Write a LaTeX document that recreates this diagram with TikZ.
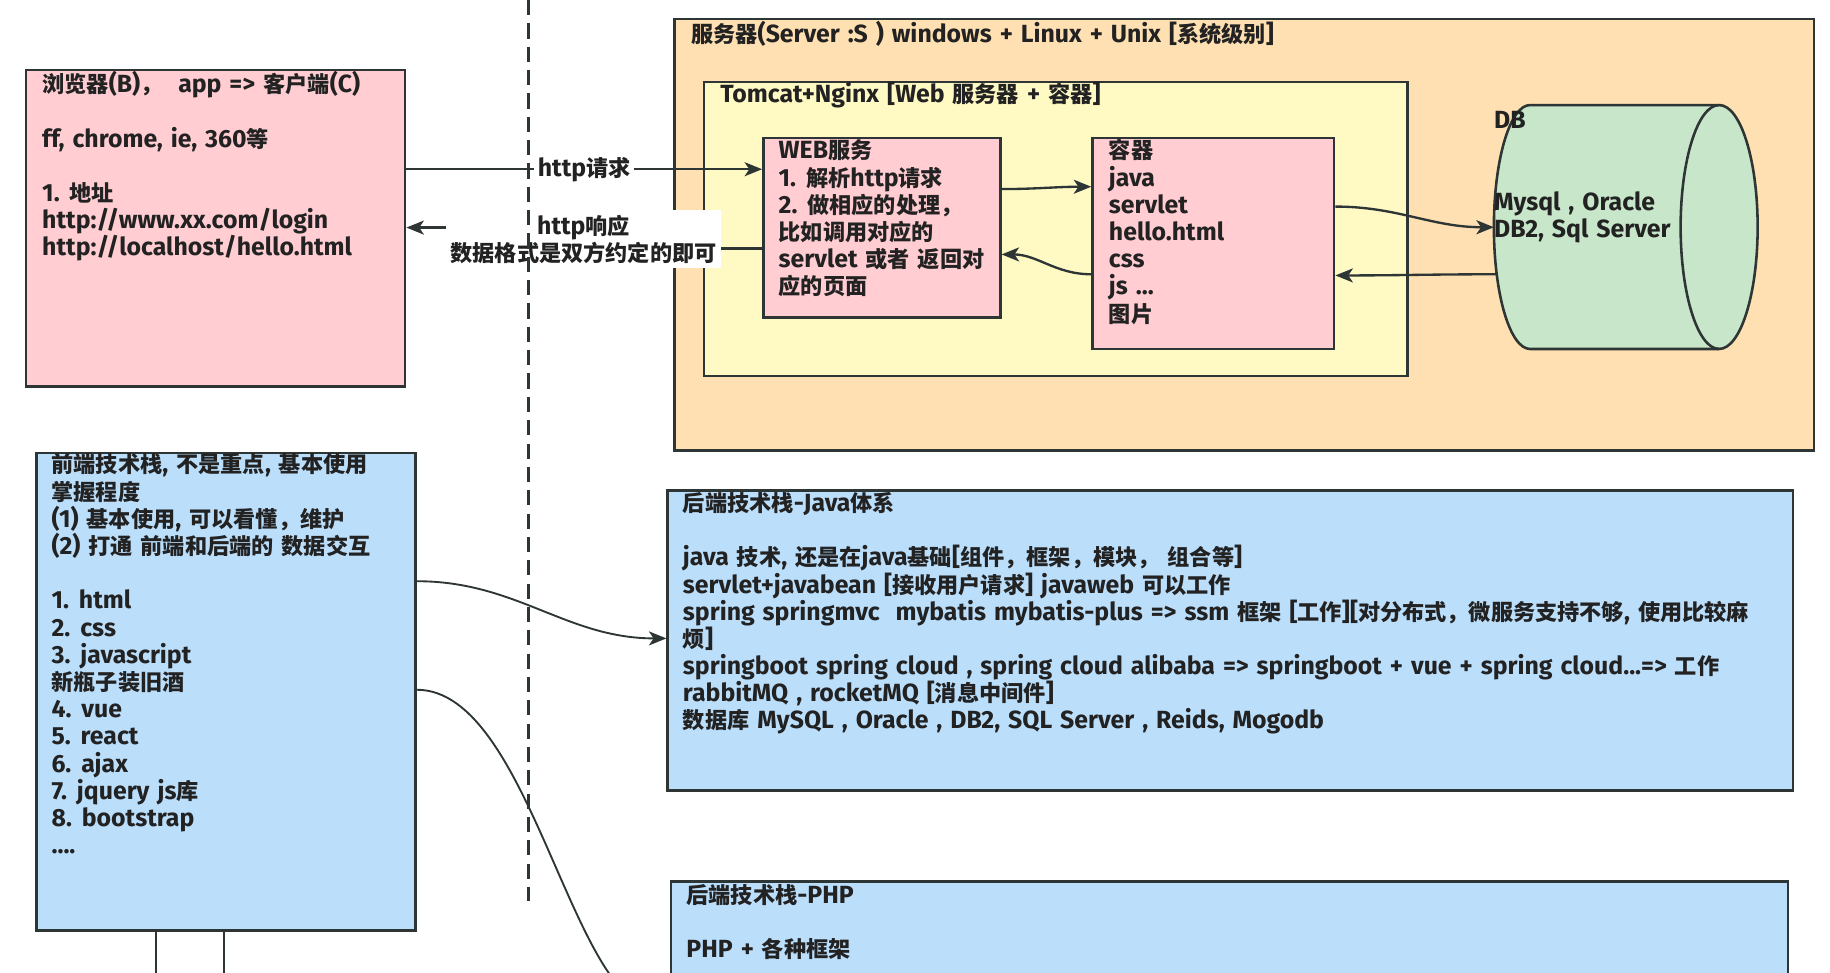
\documentclass[tikz,border=0pt]{standalone}
\usepackage{fontspec}
\setmainfont{Fira Sans}[Scale=1.12, WordSpace=1.35]
\newfontfamily\cjkf{Noto Sans CJK SC}
\usetikzlibrary{arrows.meta,calc}
\XeTeXinterchartokenstate=1
\newXeTeXintercharclass\cjkcls
\newcount\cjkc
\cjkc="2E80
\loop
  \XeTeXcharclass\cjkc=\cjkcls
  \advance\cjkc by 1
\ifnum\cjkc<"A000 \repeat
\cjkc="FF00
\loop
  \XeTeXcharclass\cjkc=\cjkcls
  \advance\cjkc by 1
\ifnum\cjkc<"FFF0 \repeat
\XeTeXinterchartoks 0 \cjkcls = {\cjkf}
\XeTeXinterchartoks 4095 \cjkcls = {\cjkf}
\XeTeXinterchartoks \cjkcls 0 = {\rmfamily}
\XeTeXinterchartoks \cjkcls 4095 = {\rmfamily}
\definecolor{pinkc}{HTML}{FFCDD2}
\definecolor{orangec}{HTML}{FFE0B2}
\definecolor{yellowc}{HTML}{FFF9C4}
\definecolor{greenc}{HTML}{C8E6C9}
\definecolor{bluec}{HTML}{BBDEFB}
\definecolor{strk}{HTML}{2E3535}
\definecolor{txtc}{HTML}{222222}
\newcommand\fz{\fontsize{19}{23.3}\selectfont\bfseries}
\newcommand\st{\rule{0pt}{17pt}}
\tikzset{
  box/.style={draw=strk, line width=2.2pt, rectangle, inner sep=0pt, anchor=north west},
  txt/.style={anchor=north west, inner sep=0pt, align=left, font=\fz, text=txtc},
  lbl/.style={fill=white, inner sep=3pt, font=\fz, text=txtc},
  arr/.style={draw=strk, line width=2pt, -{Stealth[length=15pt,width=12pt,inset=4pt]}},
  thinarr/.style={draw=strk, line width=1.6pt, -{Stealth[length=15pt,width=12pt,inset=4pt]}},
  thinline/.style={draw=strk, line width=1.6pt},
  sep/.style={draw=strk, line width=2.4pt, dash pattern=on 13pt off 7pt}
}
\begin{document}
\begin{tikzpicture}[x=1pt,y=-1pt]
\useasboundingbox (0,0) rectangle (1568,833);
\clip (0,0) rectangle (1568,833);
\fill[white] (0,0) rectangle (1568,833);

% containers
\node[box, fill=orangec, minimum width=976pt, minimum height=370pt] (server) at (577,15) {};
\node[box, fill=yellowc, minimum width=603pt, minimum height=252pt] (tomcat) at (602,69) {};
\node[box, fill=pinkc, minimum width=203pt, minimum height=154pt] (web) at (653,117) {};
\node[box, fill=pinkc, minimum width=207pt, minimum height=181pt] (cont) at (935,117) {};
\node[box, fill=pinkc, minimum width=325pt, minimum height=271pt] (browser) at (21,59) {};
\node[box, fill=bluec, minimum width=325pt, minimum height=409pt] (front) at (30,387) {};
\node[box, fill=bluec, minimum width=964pt, minimum height=257pt] (java) at (571,419) {};
\node[box, fill=bluec, minimum width=957pt, minimum height=220pt] (php) at (574,754) {};

% DB cylinder
\node[anchor=north west, inner sep=0pt, minimum width=226pt, minimum height=209pt] (db) at (1280,90) {};
\filldraw[fill=greenc, draw=strk, line width=2.2pt]
  (1311,90) -- (1473,90)
  arc[start angle=90, end angle=-90, x radius=33pt, y radius=104.5pt]
  -- (1311,299)
  arc[start angle=270, end angle=90, x radius=31pt, y radius=104.5pt] -- cycle;
\draw[strk, line width=2.2pt] (1473,90) arc[start angle=90, end angle=270, x radius=33pt, y radius=104.5pt];

% texts
\node[txt] (servert) at (592,18) {\st 服务器(Server :S ) windows + Linux + Unix [系统级别]};
\node[txt] (tomcatt) at (617,70) {\st Tomcat+Nginx [Web 服务器 + 容器]};
\node[txt] (webt) at (667,119) {\st WEB服务\\1. 解析http请求\\2. 做相应的处理，\\比如调用对应的\\servlet 或者 返回对\\应的页面};
\node[txt] (contt) at (950,119) {\st 容器\\java\\servlet\\hello.html\\css\\js ...\\图片};
\node[txt] (dbt) at (1280,93) {\st DB\\\mbox{}\\\mbox{}\\Mysql , Oracle\\DB2, Sql Server};
\node[txt] (browsert) at (36,61) {\st 浏览器(B)，\ \ app => 客户端(C)\\\mbox{}\\ff, chrome, ie, 360等\\\mbox{}\\1. 地址\\http://www.xx.com/login\\http://localhost/hello.html};
\node[txt] (frontt) at (44,388) {\st 前端技术栈, 不是重点, 基本使用\\掌握程度\\(1) 基本使用, 可以看懂，维护\\(2) 打通 前端和后端的 数据交互\\\mbox{}\\1. html\\2. css\\3. javascript\\新瓶子装旧酒\\4. vue\\5. react\\6. ajax\\7. jquery js库\\8. bootstrap\\....};
\node[txt] (javat) at (585,421) {\st 后端技术栈-Java体系\\\mbox{}\\java 技术, 还是在java基础[组件，框架，模块， 组合等]\\servlet+javabean [接收用户请求] javaweb 可以工作\\spring springmvc\ \ mybatis mybatis-plus => ssm 框架 [工作][对分布式，微服务支持不够, 使用比较麻\\烦]\\springboot spring cloud , spring cloud alibaba => springboot + vue + spring cloud...=> 工作\\rabbitMQ , rocketMQ [消息中间件]\\数据库 MySQL , Oracle , DB2, SQL Server , Reids, Mogodb};
\node[txt] (phpt) at (588,757) {\st 后端技术栈-PHP\\\mbox{}\\PHP + 各种框架};

% connectors
\draw[arr] ($(browser.north east)+(0,86)$) -- node[lbl, midway] (reqlbl) {http请求} ($(web.north west)+(0,28)$);
\draw[arr] ($(web.north west)+(0,96)$) -- ++(-153,0) |- ($(browser.north east)+(0,136)$);
\node[lbl, align=center, inner sep=4pt] (resplbl) at (500,205) {http响应\\数据格式是双方约定的即可};
\draw[arr] ($(web.north east)+(0,45)$) to[out=0, in=180] ($(cont.north west)+(0,43)$);
\draw[arr] ($(cont.north west)+(0,118)$) to[out=180, in=0] ($(web.north east)+(0,101)$);
\draw[arr] ($(cont.north east)+(0,60)$) to[out=0, in=180] (db.west);
\draw[arr] ($(db.north west)+(2,145)$) to[out=180, in=0] ($(cont.north east)+(0,119)$);
\draw[thinarr] ($(front.north east)+(0,111)$) to[out=0, in=180] ($(java.north west)+(0,128)$);
\draw[thinarr] ($(front.north east)+(0,204)$) .. controls (455,591) and (490,864) .. (php.west);
\coordinate (fb1) at ($(front.south west)+(104,60)$);
\coordinate (fb2) at ($(front.south west)+(162,60)$);
\draw[thinline] ($(front.south west)+(104,0)$) -- (fb1);
\draw[thinline] ($(front.south west)+(162,0)$) -- (fb2);

% separator
\coordinate (septop) at (453,0);
\coordinate (sepbot) at (453,772);
\draw[sep] (septop) -- (sepbot);
\end{tikzpicture}
\end{document}
